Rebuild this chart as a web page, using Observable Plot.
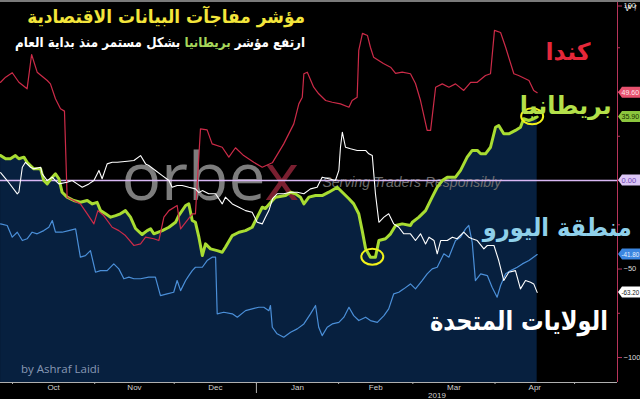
<!DOCTYPE html>
<html><head><meta charset="utf-8">
<script src="https://cdn.jsdelivr.net/npm/d3@7"></script>
<script src="https://cdn.jsdelivr.net/npm/@observablehq/plot@0.6"></script>
<style>
body{margin:0;background:#000;}
#wrap{position:relative;width:640px;height:399px;overflow:hidden;background:#000;}
.ov{position:absolute;white-space:nowrap;font-family:"DejaVu Sans",sans-serif;font-weight:bold;line-height:1;transform-origin:right center;}
.rtl{direction:rtl;}
</style></head><body><div id="wrap"></div>
<script>
// ---- data: [days since 2018-10-01, index value] ----
const canada = [[-4.5,55.5],[-2.6,58.4],[-0.1,60.9],[2.4,55.5],[5.5,51.8],[7.2,71.2],[9.3,61.2],[13.1,56.5],[14.3,54.6],[16.2,46.2],[18.1,40.5],[19.6,39.2],[20.6,-9.4],[25.6,-13.2],[28.2,-18.8],[30.7,-24.5],[32.2,-17.0],[34.4,-19.8],[37.6,-26.4],[40.1,-28.3],[42.6,-31.1],[45.8,-36.7],[48.3,-35.8],[50.2,-32.0],[53.3,-32.9],[55.2,-33.9],[57.1,-20.7],[59.0,-17.0],[62.1,-14.1],[63.4,-27.3],[67.8,-18.8],[69.0,-18.8],[70.9,29.2],[73.4,28.6],[75.3,20.7],[79.1,18.8],[81.6,13.2],[84.1,18.5],[87.2,14.1],[91.0,10.3],[94.2,7.5],[98.0,10.0],[102.3,20.7],[106.1,32.0],[108.0,43.3],[109.3,47.1],[109.9,60.3],[111.2,61.2],[113.6,52.7],[115.5,49.0],[118.1,45.2],[120.6,44.2],[123.7,43.3],[126.9,41.4],[128.1,45.2],[130.0,47.1],[130.6,73.5],[132.0,83.1],[133.9,81.9],[135.0,75.3],[136.2,69.7],[139.9,66.1],[142.6,64.0],[144.5,60.5],[147.0,61.2],[150.1,60.3],[152.0,54.8],[153.9,45.2],[156.4,28.3],[157.7,28.3],[159.6,52.7],[162.1,54.6],[164.6,52.7],[167.1,54.6],[170.2,50.9],[172.8,55.5],[175.3,55.5],[178.4,59.3],[180.3,60.3],[181.8,84.8],[184.1,83.6],[186.0,75.3],[189.1,60.3],[190.9,59.3],[194.8,56.5],[196.6,50.9],[197.9,49.6]];
const uk = [[-4.5,14.1],[-2.6,12.3],[-0.8,12.3],[1.1,14.1],[2.4,12.3],[4.3,13.2],[5.5,10.3],[8.0,6.6],[10.6,6.6],[11.8,0],[13.1,-1.9],[15.0,1.9],[16.2,3.8],[17.5,1.0],[18.7,-6.6],[20.6,-9.4],[23.1,-11.3],[25.6,-12.3],[28.2,-11.3],[30.1,-13.2],[31.9,-12.3],[33.2,-17.0],[35.1,-18.8],[37.0,-20.7],[38.9,-19.8],[40.7,-18.8],[42.6,-17.0],[44.5,-20.7],[46.4,-27.1],[48.9,-30.5],[50.8,-28.3],[52.1,-27.3],[53.3,-30.1],[56.5,-28.3],[59.0,-26.4],[61.5,-23.6],[62.7,-19.8],[65.3,-14.1],[66.5,-13.2],[67.8,-22.6],[69.0,-23.6],[70.3,-32.0],[71.6,-42.4],[72.8,-35.8],[74.7,-38.6],[77.2,-39.6],[79.1,-40.5],[80.3,-37.7],[82.9,-31.1],[85.4,-29.2],[87.9,-28.3],[90.4,-26.4],[92.3,-20.7],[94.2,-15.1],[95.4,-15.8],[98.0,-11.3],[99.2,-9.4],[103.0,-8.5],[104.9,-6.6],[106.7,-7.5],[108.6,-9.4],[109.9,-13.2],[111.8,-9.4],[114.3,-8.5],[116.8,-8.5],[119.3,-6.6],[122.5,-3.8],[124.4,-6.6],[126.9,-10.3],[128.7,-13.2],[130.6,-18.8],[131.9,-28.3],[133.2,-38.6],[135.0,-43.3],[136.9,-43.3],[138.2,-33.9],[140.7,-32.9],[142.6,-30.1],[144.5,-25.4],[147.0,-24.5],[150.1,-25.4],[150.8,-23.6],[153.3,-20.7],[155.8,-17.0],[158.3,-9.4],[160.2,-3.8],[162.1,0],[164.0,1.9],[167.1,1.9],[169.0,5.7],[171.5,13.2],[173.4,17.0],[175.3,17.0],[176.6,15.1],[178.4,15.1],[180.3,18.8],[182.2,30.1],[183.4,31.1],[185.3,26.4],[187.2,26.4],[189.7,28.3],[191.6,30.1],[192.8,34.9],[194.7,33.9],[196.6,34.9],[197.9,35.9]];
const us = [[-4.5,4.5],[-2.0,0],[1.8,-7.5],[2.4,-6.6],[3.7,7.5],[4.9,10.3],[6.8,7.5],[8.0,6.6],[10.6,7.5],[11.2,3.8],[13.1,0],[15.0,1.9],[16.2,0],[17.5,-1.9],[20.6,-1.0],[22.5,0],[24.4,-1.9],[26.3,-3.8],[28.8,-1.9],[30.7,0],[32.6,5.7],[33.8,1.0],[35.7,9.4],[37.6,10.3],[39.5,10.3],[43.3,10.9],[45.8,11.3],[48.3,14.1],[50.2,9.4],[51.4,8.5],[53.9,5.7],[56.5,2.8],[59.0,0],[60.2,-3.8],[62.1,-2.8],[64.0,-2.8],[66.5,-3.8],[69.0,-4.7],[70.3,-6.8],[71.6,-5.7],[74.0,-7.5],[76.6,-7.5],[79.1,-13.2],[80.3,-9.4],[82.9,-13.2],[85.4,-15.1],[87.9,-17.0],[90.4,-17.9],[92.3,-23.6],[94.2,-24.5],[95.4,-20.7],[96.7,-17.0],[98.1,-10.2],[99.8,-7.5],[102.3,-7.5],[104.9,-6.6],[107.4,-6.6],[109.9,-7.5],[112.4,-4.7],[114.9,-3.8],[116.8,1.9],[119.3,1.0],[121.8,0],[123.1,5.7],[123.7,18.8],[124.4,27.3],[125.6,18.8],[127.5,17.9],[130.0,17.0],[133.2,17.0],[134.4,15.1],[135.7,14.1],[136.9,-7.5],[138.2,-23.6],[140.1,-20.7],[141.9,-18.8],[143.8,-24.5],[145.7,-26.4],[147.6,-30.1],[150.1,-30.1],[152.0,-33.9],[153.9,-30.1],[155.8,-35.8],[157.1,-32.0],[159.0,-33.9],[160.2,-41.4],[161.5,-33.9],[164.0,-33.9],[165.9,-32.0],[167.7,-32.9],[170.2,-29.2],[172.1,-32.0],[173.4,-32.9],[175.3,-33.9],[177.8,-38.6],[179.1,-36.7],[181.6,-36.7],[183.4,-45.2],[185.3,-56.5],[187.2,-51.8],[189.7,-50.9],[191.6,-61.2],[193.5,-56.5],[195.4,-57.5],[196.6,-58.4],[197.9,-63.2]];
const euro = [[-4.5,-24.5],[-2.0,-25.4],[-0.1,-32.0],[1.8,-29.2],[3.7,-33.9],[5.5,-32.9],[7.4,-29.2],[9.3,-30.1],[11.8,-28.3],[13.7,-26.4],[15.0,-22.6],[16.2,-29.2],[18.7,-29.2],[21.2,-28.3],[23.8,-27.3],[25.6,-43.3],[27.5,-42.4],[29.4,-39.6],[31.3,-51.8],[33.2,-50.9],[35.7,-50.9],[38.2,-47.1],[40.1,-49.9],[42.0,-55.5],[43.9,-54.6],[45.8,-55.5],[48.3,-55.5],[51.4,-54.6],[53.9,-54.6],[55.8,-65.0],[58.3,-64.0],[60.8,-63.1],[62.1,-56.5],[63.4,-62.2],[65.3,-56.5],[66.5,-53.7],[67.8,-50.9],[69.0,-49.0],[71.6,-49.0],[73.4,-45.2],[75.3,-43.3],[76.6,-43.3],[77.2,-75.3],[79.7,-74.4],[82.9,-75.3],[84.8,-77.2],[87.9,-73.5],[90.4,-72.5],[92.9,-71.6],[94.8,-71.6],[96.7,-73.5],[97.3,-70.6],[98.0,-82.9],[99.8,-86.6],[102.3,-88.5],[104.9,-85.7],[107.4,-83.8],[109.9,-81.0],[112.4,-75.3],[114.3,-70.6],[115.5,-82.9],[116.8,-87.6],[118.7,-82.9],[120.6,-81.0],[123.1,-80.1],[125.0,-77.2],[126.9,-71.6],[128.7,-76.3],[130.6,-79.1],[133.2,-77.2],[135.0,-79.1],[137.6,-80.1],[140.1,-76.3],[141.9,-72.5],[143.8,-64.0],[145.7,-63.1],[147.6,-61.2],[150.1,-58.4],[152.0,-61.2],[154.5,-56.5],[156.4,-52.7],[158.3,-49.9],[160.2,-49.0],[162.7,-41.4],[164.6,-43.3],[167.1,-33.9],[169.0,-32.0],[170.9,-27.3],[172.1,-25.4],[173.4,-34.9],[174.6,-56.5],[176.6,-52.7],[179.1,-53.7],[180.9,-60.3],[182.8,-65.9],[184.1,-59.3],[186.0,-52.7],[187.9,-50.9],[190.4,-49.0],[192.3,-47.1],[194.8,-45.2],[197.9,-41.8]];
const ukHighlights = [[135.9,-43.3],[196.2,36.0]];
const monthStarts = ["2018-10-01","2018-11-01","2018-12-01","2019-01-01","2019-02-01","2019-03-01","2019-04-01","2019-05-01"];
const monthLabels = ["Oct","Nov","Dec","Jan","Feb","Mar","Apr"];
const yearStart = "2019-01-01";
const yearLabel = "2019";
const yTickLabels = [100, -50, -100];
const yMinorTicks = [75, 50, 25, 0, -25, -75];
const xDomainDays = [-4.53, 228.2];
const yDomain = [-114.1, 101.7];
const titleText = "مؤشر مفاجآت البيانات الاقتصادية";
const subtitleParts = ["ارتفع مؤشر ", "بريطانيا", " بشكل مستمر منذ بداية العام"];
const seriesNames = {canada: "كندا", uk: "بريطانيا", euro: "منطقة اليورو", us: "الولايات المتحدة"};
const credit = "by Ashraf Laidi";

// ---- build ----
const BASE = Date.UTC(2018, 9, 1);
const toDate = d => new Date(BASE + d * 864e5);
const rows = arr => arr.map(([d, v]) => ({date: toDate(d), v}));
const C = rows(canada), U = rows(uk), S = rows(us), E = rows(euro);
const starts = monthStarts.map(s => new Date(s + "T00:00Z"));
const mids = monthLabels.map((m, i) => new Date((+starts[i] + +starts[i + 1]) / 2));
const xEnd = toDate(xDomainDays[1]);
const yearMid = new Date((+new Date(yearStart + "T00:00Z") + +xEnd) / 2);

const col = {canada: "#cc2b48", uk: "#a8dc32", euro: "#4b8fd8", us: "#ffffff", zero: "#d9b8f5", area: "#07203f", axis: "#b8345a"};
const narrow = "Liberation Sans Narrow, Arial Narrow, Liberation Sans, sans-serif";

const chart = Plot.plot({
  width: 640, height: 399,
  marginTop: 0, marginBottom: 17, marginLeft: 0, marginRight: 23,
  style: {background: "#000", color: "#ddd", fontFamily: "Liberation Sans, Arial, sans-serif"},
  x: {type: "utc", domain: [toDate(xDomainDays[0]), xEnd], axis: null},
  y: {domain: yDomain, axis: null},
  marks: [
    Plot.areaY(U, {x: "date", y1: yDomain[0], y2: "v", fill: col.area}),
    Plot.text(["orbe"], {text: d => d, frameAnchor: "top-left", dx: 265, dy: 178, textAnchor: "end", lineAnchor: "middle", fontSize: 66, fontFamily: "Open Sans, sans-serif", fontWeight: 400, fill: "#7d7d7d"}),
    Plot.text(["x"], {text: d => d, frameAnchor: "top-left", dx: 264, dy: 178, textAnchor: "start", lineAnchor: "middle", fontSize: 66, fontFamily: "Open Sans, sans-serif", fontWeight: 400, fill: "#7a1f30"}),
    Plot.text(["Serving Traders Responsibly"], {text: d => d, frameAnchor: "top-left", dx: 322, dy: 182, textAnchor: "start", lineAnchor: "middle", fontSize: 14, fontStyle: "italic", fontFamily: "Liberation Sans, Arial, sans-serif", fill: "#6c6c6c"}),
    Plot.ruleY([0], {stroke: col.zero, strokeWidth: 1.6}),
    Plot.line(U, {x: "date", y: "v", stroke: col.uk, strokeWidth: 3, strokeLinejoin: "round"}),
    Plot.line(C, {x: "date", y: "v", stroke: col.canada, strokeWidth: 1.2}),
    Plot.line(E, {x: "date", y: "v", stroke: col.euro, strokeWidth: 1.2}),
    Plot.line(S, {x: "date", y: "v", stroke: col.us, strokeWidth: 1.1}),
    Plot.ruleX([xEnd], {stroke: col.axis, strokeWidth: 1}),
    Plot.ruleY([yDomain[0]], {stroke: "#b0b0b0", strokeWidth: 1.2}),
    Plot.axisY({anchor: "right", ticks: yTickLabels.slice(0, 1), tickSize: 4, tickPadding: 2, fontSize: 7.5, fontFamily: narrow, dy: 2.5, stroke: col.axis, fill: "#dddddd"}),
    Plot.axisY({anchor: "right", ticks: yTickLabels.slice(1), tickSize: 4, tickPadding: 2, fontSize: 7.5, fontFamily: narrow, stroke: col.axis, fill: "#dddddd"}),
    Plot.axisY({anchor: "right", ticks: yMinorTicks, tickSize: 2, text: null, stroke: col.axis}),
    Plot.axisX({ticks: starts, tickSize: 2, text: null, stroke: "#b0b0b0"}),
    Plot.axisX({ticks: [new Date(yearStart + "T00:00Z")], tickSize: 11, text: null, stroke: "#b0b0b0"}),
    Plot.axisX({ticks: mids, tickSize: 0, tickPadding: 2, fontSize: 8, fill: "#d0d0d0", tickFormat: d => monthLabels[mids.findIndex(m => +m === +d)]}),
    Plot.axisX({ticks: [yearMid], tickSize: 0, tickPadding: 10, fontSize: 8, fill: "#d0d0d0", tickFormat: () => yearLabel})
  ]
});

const wrap = document.getElementById("wrap");
wrap.appendChild(chart);
const xs = chart.scale("x"), ys = chart.scale("y");
const svg = d3.select(chart);
// drop any empty text nodes left by tick-only axes
svg.selectAll("text").filter(function () { return !this.textContent.trim(); }).remove();

// highlight ellipses
ukHighlights.forEach(([d, v]) => {
  svg.append("ellipse").attr("cx", xs.apply(toDate(d))).attr("cy", ys.apply(v))
    .attr("rx", 11).attr("ry", 8).attr("fill", "none").attr("stroke", "#f2f21a").attr("stroke-width", 2);
});

// value tags on right axis
const xr = xs.apply(xEnd);
const tags = [
  {v: canada.at(-1)[1], bg: "#e8526f", fg: "#ffe8ee"},
  {v: uk.at(-1)[1], bg: "#8cc63e", fg: "#173000"},
  {v: 0, bg: "#dcc6f6", fg: "#6a44b0"},
  {v: euro.at(-1)[1], bg: "#3b86e0", fg: "#e8f2ff"},
  {v: us.at(-1)[1], bg: "#ffffff", fg: "#111111"}
];
const tagG = svg.append("g").attr("text-anchor", "start");
const room = 640 - (xr + 4.5) - 0.8;
tags.forEach(t => {
  const y = ys.apply(t.v);
  tagG.append("path").attr("d", `M${xr+1},${y} L${xr+5},${y-5.5} H640 V${y+5.5} H${xr+5} Z`).attr("fill", t.bg);
  const tx = tagG.append("text").attr("transform", `translate(${xr + 4.5},${y})`).attr("dy", "0.35em").attr("font-size", 7.5)
    .attr("text-anchor", "start").attr("font-family", narrow).attr("fill", t.fg).text(t.v.toFixed(2));
  const len = tx.node().getComputedTextLength();
  if (len > room) tx.attr("textLength", room).attr("lengthAdjust", "spacingAndGlyphs");
});

// overlays (Arabic text), fitted to the reference's extents
function ov(html, rightEdge, width, centerY, size, color) {
  const d = document.createElement("div");
  d.className = "ov rtl";
  d.innerHTML = html;
  Object.assign(d.style, {right: (640 - rightEdge) + "px", fontSize: size + "px", color});
  wrap.appendChild(d);
  const w = d.getBoundingClientRect().width;
  const r = width / w;
  const fs = size * Math.pow(r, 0.45);
  d.style.fontSize = fs + "px";
  const w2 = d.getBoundingClientRect().width;
  d.style.transform = `scaleX(${width / w2})`;
  d.style.top = (centerY - d.getBoundingClientRect().height / 2) + "px";
  return d;
}
const topBar = document.createElement("div");
Object.assign(topBar.style, {position: "absolute", left: "0", top: "0", width: "640px", height: "2px", background: "#7a7a7a"});
wrap.appendChild(topBar);
ov(titleText, 305, 278, 17, 20, "#f3e53b");
ov(`${subtitleParts[0]}<span style="color:#a6d65a">${subtitleParts[1]}</span>${subtitleParts[2]}`, 305, 290, 43, 15, "#ffffff");
ov(seriesNames.canada, 590, 45, 53, 24, "#e5283a");
ov(seriesNames.uk, 612, 92, 106, 26, "#b4e04a");
ov(seriesNames.euro, 632, 149, 228, 27, "#8fd0ea");
ov(seriesNames.us, 608, 178, 321, 30, "#ffffff");
const cr = document.createElement("div");
cr.textContent = credit;
Object.assign(cr.style, {position: "absolute", left: "21px", top: "361px", fontSize: "11.5px", color: "#8798b4", fontFamily: "Open Sans, sans-serif", whiteSpace: "nowrap"});
wrap.appendChild(cr);
</script></body></html>
